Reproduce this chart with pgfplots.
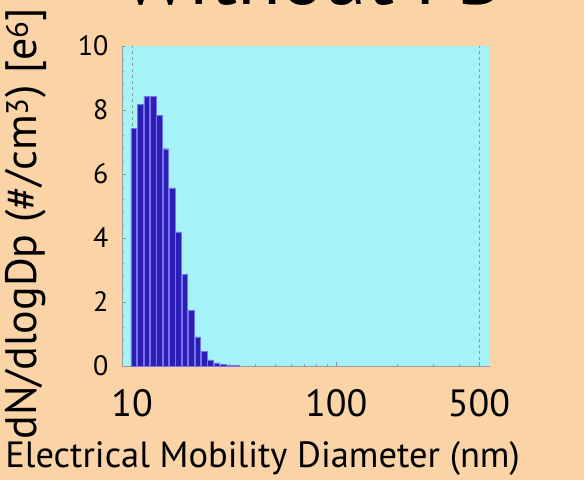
\documentclass[border=0pt]{standalone}
\usepackage{fontspec}
\setmainfont{PT Sans}
\usepackage{pgfplots}
\pgfplotsset{compat=1.18}
\definecolor{peach}{RGB}{250,211,166}
\definecolor{plotcyan}{RGB}{166,243,247}
\definecolor{barblue}{RGB}{42,30,182}
\definecolor{baredge}{RGB}{120,115,230}
\begin{document}
\begin{tikzpicture}
\fill[peach] (0,0) rectangle (584pt,480pt);
\node[anchor=base, font=\fontsize{80}{90}\selectfont, inner sep=0pt] at (313pt,475pt) {Without FB};
\begin{axis}[
  at={(122pt,114pt)}, anchor=south west,
  scale only axis, width=368pt, height=320pt,
  xmode=log, xmin=8.93, xmax=566, ymin=0, ymax=10,
  axis background/.style={fill=plotcyan},
  axis x line*=bottom, axis y line*=left,
  axis line style={draw=gray!80, line width=0.5pt},
  ytick={0,2,...,10}, minor y tick num=4,
  xtick={10,100,500}, xticklabels={10,100,500},
  minor xtick={20,30,40,50,60,70,80,90,200,300,400},
  tick align=inside,
  tick style={draw=gray!80, line width=0.5pt},
  major tick length=4pt, minor tick length=2.5pt,
  /pgf/number format/assume math mode=true,
  xticklabel style={font=\fontsize{38}{40}\selectfont, anchor=base, yshift=-50pt},
  yticklabel style={font=\fontsize{28}{30}\selectfont, anchor=east, xshift=-10pt},
  xlabel={Electrical Mobility Diameter (nm)},
  xlabel style={font=\fontsize{36.5}{44}\selectfont, at={(axis description cs:0.382,-0.316)}, anchor=base, inner sep=0pt},
  ylabel={dN/dlogDp (\#/cm\textsuperscript{3}) [e\textsuperscript{6}]},
  ylabel style={font=\fontsize{44}{50}\selectfont, at={(axis description cs:-0.231,0.445)}, anchor=base, inner sep=0pt},
  clip=true,
]
\addplot[gray!80, dashed, line width=0.5pt] coordinates {(10,0) (10,10)};
\addplot[gray!80, dashed, line width=0.5pt] coordinates {(500,0) (500,10)};
\addplot[ybar, bar width=5.6pt, fill=barblue, draw=baredge, line width=0.4pt] coordinates {
(10.20,7.42) (10.96,8.18) (11.78,8.43) (12.66,8.43) (13.60,7.84) (14.62,6.79)
(15.71,5.57) (16.88,4.19) (18.14,2.86) (19.49,1.74) (20.95,0.91) (22.51,0.45)
(24.19,0.19) (26.00,0.10) (27.94,0.05) (30.02,0.025) (32.26,0.01)
};
\end{axis}
\pgfresetboundingbox
\useasboundingbox (0,0) rectangle (584pt,480pt);
\end{tikzpicture}
\end{document}
